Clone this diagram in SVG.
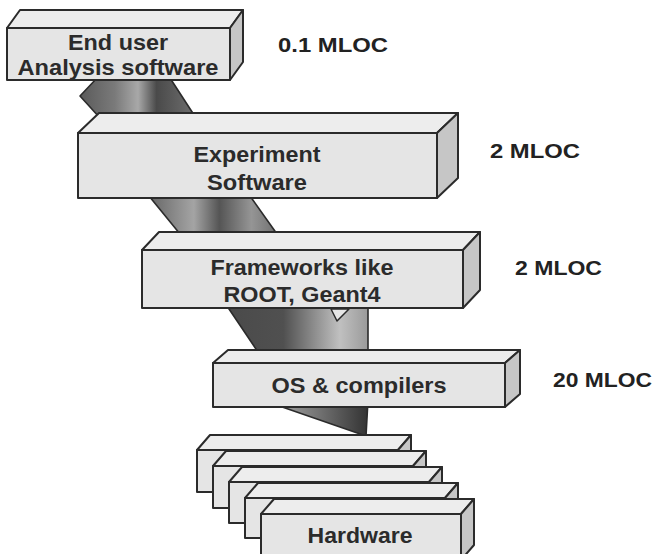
<svg xmlns="http://www.w3.org/2000/svg" width="656" height="554" viewBox="0 0 656 554">
<defs>
<linearGradient id="g1" x1="0" y1="0" x2="1" y2="0">
<stop offset="0" stop-color="#5a5a5a"/><stop offset="0.3" stop-color="#7a7a7a"/><stop offset="0.5" stop-color="#a8a8a8"/><stop offset="0.66" stop-color="#4a4a4a"/><stop offset="1" stop-color="#707070"/>
</linearGradient>
<linearGradient id="g2" x1="0" y1="0" x2="1" y2="0">
<stop offset="0" stop-color="#666666"/><stop offset="0.35" stop-color="#a4a4a4"/><stop offset="0.55" stop-color="#555555"/><stop offset="0.8" stop-color="#959595"/><stop offset="1" stop-color="#707070"/>
</linearGradient>
<linearGradient id="g3" x1="0" y1="0" x2="1" y2="0">
<stop offset="0" stop-color="#4a4a4a"/><stop offset="0.4" stop-color="#505050"/><stop offset="0.8" stop-color="#c0c0c0"/><stop offset="1" stop-color="#9a9a9a"/>
</linearGradient>
<linearGradient id="g4" x1="0" y1="0" x2="1" y2="0">
<stop offset="0" stop-color="#b8b8b8"/><stop offset="0.5" stop-color="#777777"/><stop offset="1" stop-color="#333333"/>
</linearGradient>
</defs>
<style>
.f{fill:#e5e5e5;stroke:#2b2b2b;stroke-width:2;stroke-linejoin:round}
.t{fill:#ededed;stroke:#2b2b2b;stroke-width:2;stroke-linejoin:round}
.r{fill:#c6c6c6;stroke:#2b2b2b;stroke-width:2;stroke-linejoin:round}
.band{stroke:#2b2b2b;stroke-width:1.6;stroke-linejoin:round}
.lbl{font-family:"Liberation Sans",Arial,sans-serif;font-weight:bold;font-size:22px;fill:#2b2b2b;text-anchor:middle}
.ml{font-family:"Liberation Sans",Arial,sans-serif;font-weight:bold;font-size:20.5px;fill:#222}
</style>
<rect width="656" height="554" fill="#ffffff"/>
<g id="connectors">
<polygon class="band" fill="url(#g1)" points="97,78 170,78 196,118 100,118 80,96"/>
<polygon class="band" fill="url(#g2)" points="149,196 250,196 277,234 180,234"/>
<polygon class="band" fill="url(#g3)" points="227,306 368,306 368,352 258,352"/>
<polygon fill="#e6e6e6" stroke="#2b2b2b" stroke-width="1.5" stroke-linejoin="round" points="331,309 349,309 337,321"/>
<polygon class="band" fill="url(#g4)" points="262,400 368,400 366,436"/>
</g>
<g id="box-enduser">
<polygon class="t" points="7,28 20,10 243,10 230,28"/>
<polygon class="r" points="230,28 243,10 243,62 230,80"/>
<rect class="f" x="7" y="28" width="223" height="52"/>
<text class="lbl" x="118" y="50" textLength="100" lengthAdjust="spacingAndGlyphs">End user</text>
<text class="lbl" x="118" y="75" textLength="201" lengthAdjust="spacingAndGlyphs">Analysis software</text>
</g>
<g id="box-experiment">
<polygon class="t" points="78,133 99,113 458,113 437,133"/>
<polygon class="r" points="437,133 458,113 458,178 437,198"/>
<rect class="f" x="78" y="133" width="359" height="65"/>
<text class="lbl" x="257" y="162" textLength="127" lengthAdjust="spacingAndGlyphs">Experiment</text>
<text class="lbl" x="257" y="190" textLength="100" lengthAdjust="spacingAndGlyphs">Software</text>
</g>
<g id="box-frameworks">
<polygon class="t" points="142,250 159,232 480,232 463,250"/>
<polygon class="r" points="463,250 480,232 480,290 463,308"/>
<rect class="f" x="142" y="250" width="321" height="58"/>
<text class="lbl" x="302" y="275" textLength="183" lengthAdjust="spacingAndGlyphs">Frameworks like</text>
<text class="lbl" x="302" y="302" textLength="157" lengthAdjust="spacingAndGlyphs">ROOT, Geant4</text>
</g>
<g id="box-os">
<polygon class="t" points="213,363 228,350 520,350 505,363"/>
<polygon class="r" points="505,363 520,350 520,394 505,407"/>
<rect class="f" x="213" y="363" width="292" height="44"/>
<text class="lbl" x="359" y="393" textLength="175" lengthAdjust="spacingAndGlyphs">OS &amp; compilers</text>
</g>
<g id="box-hardware">
<g id="hw-1">
<polygon class="t" points="197,450 210,435 411,435 398,450"/>
<polygon class="r" points="398,450 411,435 411,477 398,492"/>
<rect class="f" x="197" y="450" width="201" height="42"/>
</g>
<g id="hw-2">
<polygon class="t" points="213,466 226,451 426,451 413,466"/>
<polygon class="r" points="413,466 426,451 426,493 413,508"/>
<rect class="f" x="213" y="466" width="200" height="42"/>
</g>
<g id="hw-3">
<polygon class="t" points="229,482 242,467 442,467 429,482"/>
<polygon class="r" points="429,482 442,467 442,508 429,523"/>
<rect class="f" x="229" y="482" width="200" height="41"/>
</g>
<g id="hw-4">
<polygon class="t" points="245,498 258,483 458,483 445,498"/>
<polygon class="r" points="445,498 458,483 458,523 445,538"/>
<rect class="f" x="245" y="498" width="200" height="40"/>
</g>
<g id="hw-5">
<polygon class="t" points="261,514 274,499 474,499 461,514"/>
<polygon class="r" points="461,514 474,499 474,545 461,560"/>
<rect class="f" x="261" y="514" width="200" height="46"/>
<text class="lbl" x="360" y="543" textLength="105" lengthAdjust="spacingAndGlyphs">Hardware</text>
</g>
</g>
<g id="labels">
<text class="ml" x="278" y="52" textLength="110" lengthAdjust="spacingAndGlyphs">0.1 MLOC</text>
<text class="ml" x="490" y="158" textLength="90" lengthAdjust="spacingAndGlyphs">2 MLOC</text>
<text class="ml" x="515" y="275" textLength="87" lengthAdjust="spacingAndGlyphs">2 MLOC</text>
<text class="ml" x="553" y="387" textLength="99" lengthAdjust="spacingAndGlyphs">20 MLOC</text>
</g>
</svg>
